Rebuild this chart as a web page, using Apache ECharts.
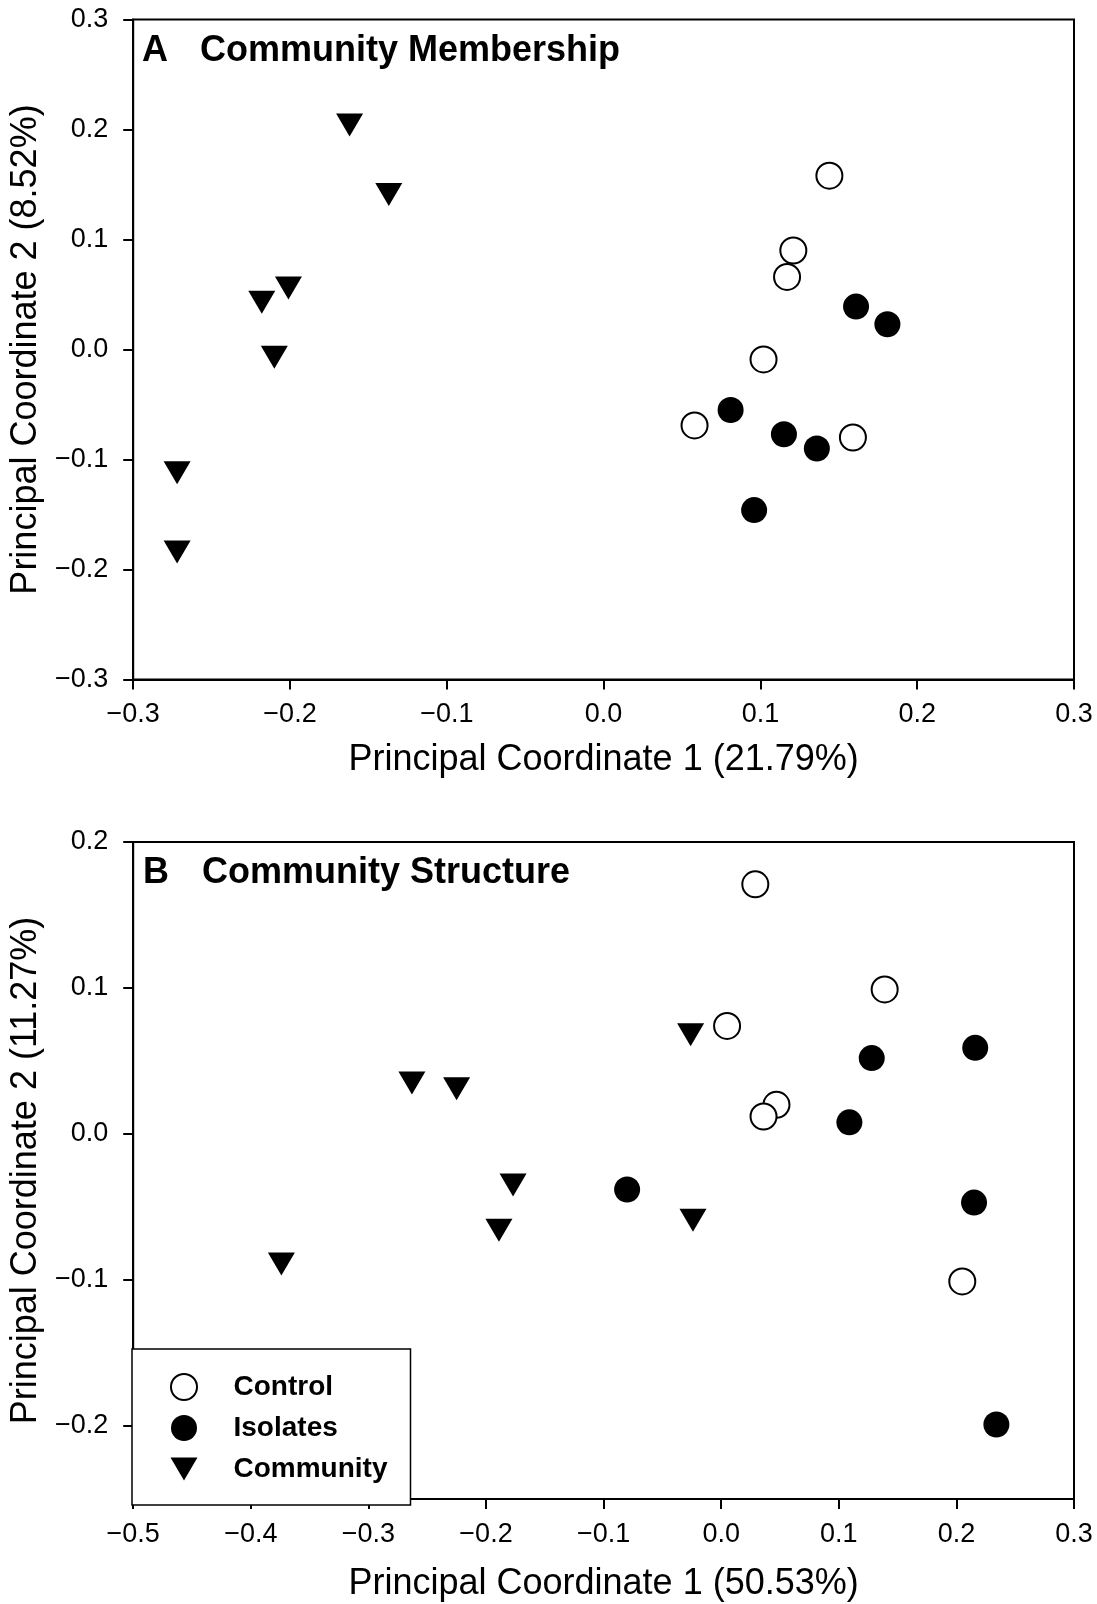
<!DOCTYPE html>
<html>
<head>
<meta charset="utf-8">
<script src="https://cdn.jsdelivr.net/npm/echarts@6/dist/echarts.min.js"></script>
<style>
html,body{margin:0;padding:0;background:#fff;}
#chart{width:1097px;height:1604px;}
</style>
</head>
<body>
<div id="chart"></div>
<script>
// ---- Data ----
const seriesNames = ['Control', 'Isolates', 'Community'];

// Panel A: Community Membership  [PC1, PC2]
const controlA = [[0.144,0.158],[0.121,0.090],[0.117,0.066],[0.102,-0.009],[0.058,-0.069],[0.159,-0.080]];
const isolatesA = [[0.161,0.039],[0.181,0.023],[0.081,-0.055],[0.115,-0.077],[0.136,-0.090],[0.096,-0.146]];
const communityA = [[-0.162,0.204],[-0.137,0.141],[-0.218,0.043],[-0.201,0.056],[-0.210,-0.007],[-0.272,-0.112],[-0.272,-0.184]];

// Panel B: Community Structure  [PC1, PC2]
const controlB = [[0.029,0.171],[0.139,0.099],[0.005,0.074],[0.047,0.020],[0.036,0.012],[0.205,-0.101]];
const isolatesB = [[0.128,0.052],[0.216,0.059],[0.109,0.008],[-0.080,-0.038],[0.215,-0.047],[0.234,-0.199]];
const communityB = [[-0.026,0.068],[-0.263,0.035],[-0.225,0.031],[-0.177,-0.035],[-0.189,-0.066],[-0.024,-0.059],[-0.374,-0.089]];

// Tick labels
const xTicksA = [-0.3,-0.2,-0.1,0.0,0.1,0.2,0.3];
const yTicksA = [-0.3,-0.2,-0.1,0.0,0.1,0.2,0.3];
const xTicksB = [-0.5,-0.4,-0.3,-0.2,-0.1,0.0,0.1,0.2,0.3];
const yTicksB = [-0.2,-0.1,0.0,0.1,0.2];

const titleA = ['A', 'Community Membership'];
const titleB = ['B', 'Community Structure'];
const xNameA = 'Principal Coordinate 1 (21.79%)';
const yNameA = 'Principal Coordinate 2 (8.52%)';
const xNameB = 'Principal Coordinate 1 (50.53%)';
const yNameB = 'Principal Coordinate 2 (11.27%)';

// ---- Chart ----
const FONT = '"Liberation Sans", Arial, sans-serif';
const fmt = v => (v < -1e-9 ? '\u2212' : '') + Math.abs(v).toFixed(1);
const DOWN_TRIANGLE = 'path://M0,0 L27,0 L13.5,23 Z';

function makeAxis(gridIndex, min, max, ticks, name, nameGap, isY) {
  return {
    type: 'value', gridIndex, min, max,
    name, nameLocation: 'middle', nameGap,
    nameTextStyle: {fontFamily: FONT, fontSize: 36, color: '#000'},
    axisLine: {show: true, onZero: false, lineStyle: {color: '#000', width: 2}},
    axisTick: {show: true, inside: false, length: 10, lineStyle: {color: '#000', width: 2}, customValues: ticks},
    axisLabel: {show: true, fontFamily: FONT, fontSize: 27, color: '#000', margin: isY ? 25 : 22,
                customValues: ticks, formatter: fmt, showMinLabel: true, showMaxLabel: true},
    splitLine: {show: false}
  };
}

const styles = {
  Control: {symbol: 'circle', symbolSize: 26, itemStyle: {color: '#fff', borderColor: '#000', borderWidth: 2, opacity: 1}},
  Isolates: {symbol: 'circle', symbolSize: 26, itemStyle: {color: '#000', borderColor: '#000', borderWidth: 0, opacity: 1}},
  Community: {symbol: DOWN_TRIANGLE, symbolSize: [27, 23], itemStyle: {color: '#000', borderColor: '#000', borderWidth: 0, opacity: 1}}
};

function makeSeries(name, data, idx) {
  const s = styles[name];
  return {
    type: 'scatter', name, data,
    xAxisIndex: idx, yAxisIndex: idx,
    symbol: s.symbol, symbolSize: s.symbolSize,
    symbolKeepAspect: false,
    itemStyle: s.itemStyle,
    emphasis: {disabled: true},
    z: name === 'Control' ? 3 : 2
  };
}

const titleStyle = {fontFamily: FONT, fontSize: 36, fontWeight: 'bold', color: '#000'};

const option = {
  animation: false,
  backgroundColor: '#fff',
  title: [
    {text: titleA[0], left: 142, top: 33, textStyle: titleStyle, padding: 0},
    {text: titleA[1], left: 200, top: 33, textStyle: titleStyle, padding: 0},
    {text: titleB[0], left: 143, top: 855, textStyle: titleStyle, padding: 0},
    {text: titleB[1], left: 202, top: 855, textStyle: titleStyle, padding: 0}
  ],
  grid: [
    {left: 132, top: 19.5, width: 942, height: 660, show: true, borderColor: '#000', borderWidth: 2, backgroundColor: 'transparent'},
    {left: 132, top: 842, width: 942, height: 657, show: true, borderColor: '#000', borderWidth: 2, backgroundColor: 'transparent'}
  ],
  xAxis: [
    makeAxis(0, -0.3, 0.3, xTicksA, xNameA, 63, false),
    makeAxis(1, -0.5, 0.3, xTicksB, xNameB, 67, false)
  ],
  yAxis: [
    makeAxis(0, -0.3, 0.3, yTicksA, yNameA, 84, true),
    makeAxis(1, -0.25, 0.2, yTicksB, yNameB, 84, true)
  ],
  legend: {
    show: true, orient: 'vertical', left: 132, top: 1349,
    padding: [24, 23, 22, 38],
    itemWidth: 27, itemHeight: 26, itemGap: 13,
    symbolKeepAspect: true,
    borderColor: '#000', borderWidth: 1.5, backgroundColor: '#fff',
    selectedMode: false,
    textStyle: {fontFamily: FONT, fontSize: 28, fontWeight: 'bold', color: '#000', padding: [0, 0, 0, 31]},
    data: [
      {name: 'Control', icon: 'circle', itemStyle: {color: '#fff', borderColor: '#000', borderWidth: 2, opacity: 1}},
      {name: 'Isolates', icon: 'circle', itemStyle: {color: '#000', borderWidth: 0, opacity: 1}},
      {name: 'Community', icon: DOWN_TRIANGLE, itemStyle: {color: '#000', borderWidth: 0, opacity: 1}}
    ]
  },
  series: [
    makeSeries('Control', controlA, 0),
    makeSeries('Isolates', isolatesA, 0),
    makeSeries('Community', communityA, 0),
    makeSeries('Control', controlB, 1),
    makeSeries('Isolates', isolatesB, 1),
    makeSeries('Community', communityB, 1)
  ]
};

const chart = echarts.init(document.getElementById('chart'), null, {renderer: 'canvas'});
chart.setOption(option);
</script>
</body>
</html>
